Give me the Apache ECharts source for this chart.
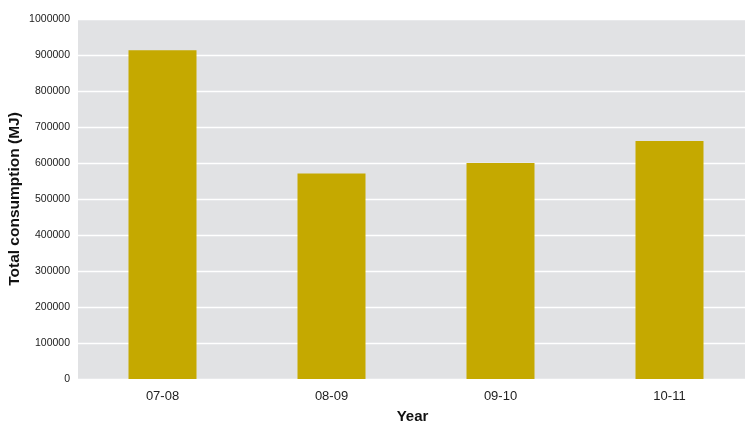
<!DOCTYPE html>
<html>
<head>
<meta charset="utf-8">
<script src="https://cdn.jsdelivr.net/npm/echarts@6/dist/echarts.min.js"></script>
<style>
  html, body { margin: 0; padding: 0; background: #ffffff; }
  #chart { width: 745px; height: 423px; }
</style>
</head>
<body>
<div id="chart"></div>
<script>
// Annual energy use by financial year
const years = ['07-08', '08-09', '09-10', '10-11'];
const consumption = [913000, 571000, 600000, 661000];

const chart = echarts.init(document.getElementById('chart'), null, { renderer: 'canvas' });
chart.setOption({
  animation: false,
  textStyle: { fontFamily: 'Liberation Sans, Arial, sans-serif' },
  grid: {
    left: 78, right: -9, top: 19, bottom: 44,
    outerBoundsMode: 'none',
    containLabel: false,
    show: true, backgroundColor: '#e1e2e4', borderWidth: 0
  },
  xAxis: {
    type: 'category',
    data: years,
    name: 'Year',
    nameLocation: 'middle',
    nameGap: 30,
    nameMoveOverlap: false,
    nameTextStyle: { fontSize: 15, fontWeight: 'bold', color: '#111', padding: [0, 7, 0, 0] },
    axisLine: { show: false },
    axisTick: { show: false },
    axisLabel: { fontSize: 13, color: '#222', margin: 11 }
  },
  yAxis: {
    type: 'value',
    min: 0,
    max: 1000000,
    interval: 100000,
    name: 'Total consumption (MJ)',
    nameLocation: 'middle',
    nameGap: 55,
    nameMoveOverlap: false,
    nameTextStyle: { fontSize: 15.5, fontWeight: 'bold', color: '#111' },
    axisLine: { show: false },
    axisTick: { show: false },
    axisLabel: { fontSize: 10.5, color: '#222', margin: 8, formatter: v => String(v) },
    splitLine: { lineStyle: { color: '#ffffff', width: 1.3 } }
  },
  series: [{
    type: 'bar',
    data: consumption,
    barWidth: 68,
    itemStyle: { color: '#c5a900' }
  }]
});
</script>
</body>
</html>
